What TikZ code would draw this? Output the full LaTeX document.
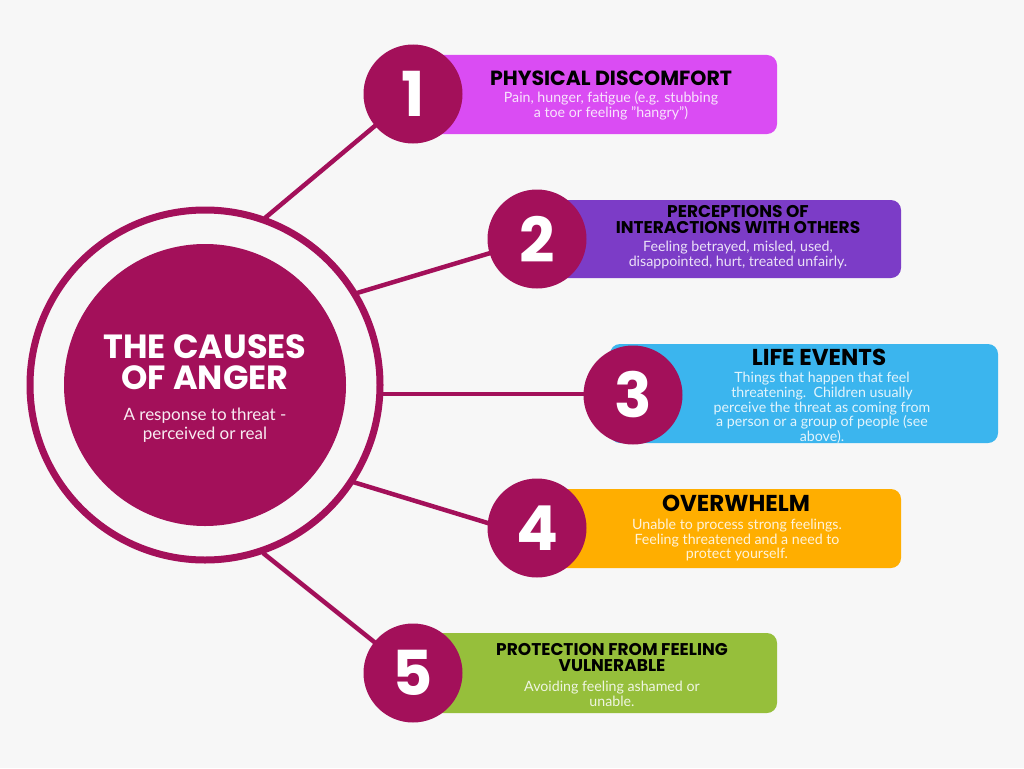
\documentclass[tikz,border=0pt]{standalone}
\usepackage{fontspec}
\setmainfont{Lato}
\newfontfamily\headfont{Poppins}
\usetikzlibrary{calc}
\definecolor{bg}{HTML}{F7F7F7}
\definecolor{anger}{HTML}{A3105A}
\definecolor{magbox}{HTML}{DA4CF3}
\definecolor{purpbox}{HTML}{7C3CC7}
\definecolor{bluebox}{HTML}{3BB5EE}
\definecolor{orbox}{HTML}{FFAE00}
\definecolor{grbox}{HTML}{96BF3B}
\tikzset{
  numdot/.style={circle, fill=anger, minimum size=99pt, inner sep=0pt, text=white, font=\headfont\bfseries\fontsize{62}{62}\selectfont},
  headtxt/.style={align=center, inner sep=0pt, font=\headfont\bfseries\fontsize{#1}{16}\selectfont},
  headtxt/.default=17,
  desctxt/.style={align=center, inner sep=0pt, text=white!85!#1, font=\fontsize{14.2}{14.6}\selectfont},
  spoke/.style={line width=4.5pt, color=anger},
}

\begin{document}
\begin{tikzpicture}[x=1pt, y=-1pt]
			%%%%% START %%%%%
			
			\fill[bg] (0, 0) rectangle (1024, 768);
			\useasboundingbox (0, 0) rectangle (1024, 768);
			
			% centre
			\coordinate (mid) at (205, 385);
			\draw[line width=7pt, color=anger] (mid) circle (175);
			\fill[anger] (mid) circle (141);
			\node[align=center, inner sep=0pt, text=white, font=\headfont\bfseries\fontsize{33.5}{31}\selectfont] (title) at (205, 362.5) {THE CAUSES\\OF ANGER};
			\node[align=center, inner sep=0pt, text=white!92!anger, font=\fontsize{17}{19}\selectfont] (sub) at (205, 425) {A response to threat -\\perceived or real};
			
			% boxes
			\fill[magbox, rounded corners=10pt] (420, 55) rectangle (777, 134);
			\fill[purpbox, rounded corners=10pt] (540, 200) rectangle (901, 278);
			\fill[bluebox, rounded corners=10pt] (610, 344) rectangle (998, 443);
			\fill[orbox, rounded corners=10pt] (540, 489) rectangle (901, 568);
			\fill[grbox, rounded corners=10pt] (420, 633) rectangle (777, 713);
			
			% spokes
			\coordinate (s1) at (265, 218);
			\coordinate (s2) at (357, 293);
			\coordinate (s3) at (380, 394);
			\coordinate (s4) at (353, 482);
			\coordinate (s5) at (263, 553);
			\coordinate (e1) at (413, 94);
			\coordinate (e2) at (537, 239);
			\coordinate (e3) at (633, 394);
			\coordinate (e4) at (537, 538);
			\coordinate (e5) at (413, 673);
			\foreach \i in {1,...,5}
				\draw[spoke] (s\i) -- (e\i);
			
			% numbers
			\node[numdot] (n1) at (413, 94) {1};
			\node[numdot] (n2) at (537, 239) {2};
			\node[numdot] (n3) at (633, 395) {3};
			\node[numdot] (n4) at (537, 528) {4};
			\node[numdot] (n5) at (413, 673) {5};
			
			% texts
			\node[headtxt=20.5] (h1) at (611, 78) {PHYSICAL DISCOMFORT};
			\node[desctxt=magbox] (d1) at (611, 106) {Pain, hunger, fatigue (e.g. stubbing\\a toe or feeling "hangry")};
			
			\node[headtxt] (h2) at (738, 220) {PERCEPTIONS OF\\INTERACTIONS WITH OTHERS};
			\node[desctxt=purpbox] (d2) at (738, 255) {Feeling betrayed, misled, used,\\disappointed, hurt, treated unfairly.};
			
			\node[headtxt=23] (h3) at (819, 357) {LIFE EVENTS};
			\node[desctxt=bluebox] (d3) at (822, 408) {Things that happen that feel\\threatening.\ \ Children usually\\perceive the threat as coming from\\a person or a group of people (see\\above).};
			
			\node[headtxt=23] (h4) at (736, 503) {OVERWHELM};
			\node[desctxt=orbox] (d4) at (737, 540) {Unable to process strong feelings.\\Feeling threatened and a need to\\protect yourself.};
			
			\node[headtxt] (h5) at (612, 657.5) {PROTECTION FROM FEELING\\VULNERABLE};
			\node[desctxt=grbox] (d5) at (612, 694) {Avoiding feeling ashamed or\\unable.};
			
			%%%%% END %%%%%
		\end{tikzpicture}
\end{document}
